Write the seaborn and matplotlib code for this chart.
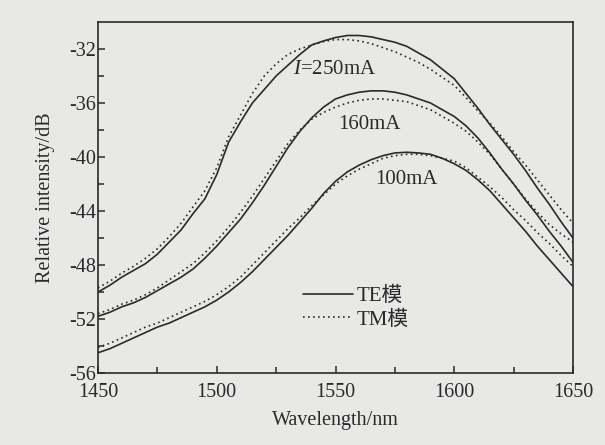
import pandas as pd
import matplotlib
matplotlib.use('Agg')
import matplotlib.pyplot as plt
import seaborn as sns

wavelength = list(range(1450, 1651, 5))

te_250 = [-50.0, -49.5, -48.9, -48.4, -47.9, -47.2, -46.3, -45.4, -44.2, -43.1,
          -41.3, -38.9, -37.4, -36.0, -35.0, -34.0, -33.2, -32.4, -31.7, -31.4,
          -31.15, -31.0, -31.0, -31.1, -31.3, -31.5, -31.8, -32.3, -32.8, -33.5,
          -34.2, -35.3, -36.4, -37.6, -38.7, -39.8, -41.0, -42.3, -43.5, -44.8, -46.0]
tm_250 = [-49.7, -49.2, -48.6, -48.1, -47.5, -46.8, -45.9, -44.9, -43.7, -42.5,
          -40.8, -38.5, -36.9, -35.3, -34.0, -33.1, -32.4, -32.0, -31.7, -31.45,
          -31.3, -31.3, -31.4, -31.6, -31.9, -32.2, -32.6, -33.0, -33.5, -34.1,
          -34.7, -35.6, -36.6, -37.5, -38.5, -39.6, -40.6, -41.7, -42.8, -43.9, -44.9]
te_160 = [-51.8, -51.5, -51.1, -50.8, -50.4, -49.9, -49.4, -48.9, -48.3, -47.5,
          -46.6, -45.6, -44.6, -43.4, -42.1, -40.7, -39.3, -38.1, -37.1, -36.3,
          -35.7, -35.4, -35.2, -35.1, -35.1, -35.2, -35.4, -35.7, -36.0, -36.5,
          -37.0, -37.7, -38.6, -39.7, -40.9, -42.0, -43.2, -44.3, -45.5, -46.6, -47.8]
tm_160 = [-51.6, -51.3, -50.9, -50.6, -50.2, -49.7, -49.1, -48.5, -47.9, -47.1,
          -46.2, -45.2, -44.1, -42.9, -41.6, -40.3, -39.0, -38.0, -37.2, -36.7,
          -36.3, -36.0, -35.8, -35.7, -35.7, -35.8, -35.9, -36.2, -36.5, -37.0,
          -37.5, -38.1, -38.9, -39.8, -40.9, -42.0, -43.1, -44.1, -45.0, -45.7, -46.3]
te_100 = [-54.5, -54.2, -53.8, -53.4, -53.0, -52.6, -52.3, -51.9, -51.5, -51.1,
          -50.6, -50.0, -49.3, -48.5, -47.6, -46.7, -45.8, -44.8, -43.8, -42.7,
          -41.8, -41.1, -40.6, -40.2, -39.9, -39.7, -39.65, -39.7, -39.8, -40.1,
          -40.5, -41.0, -41.7, -42.5, -43.5, -44.5, -45.5, -46.6, -47.6, -48.6, -49.6]
tm_100 = [-54.1, -53.8, -53.4, -53.0, -52.6, -52.3, -51.9, -51.5, -51.1, -50.7,
          -50.2, -49.6, -48.9, -48.0, -47.1, -46.2, -45.3, -44.5, -43.6, -42.8,
          -42.0, -41.4, -40.9, -40.5, -40.1, -39.9, -39.8, -39.8, -39.9, -40.1,
          -40.3, -40.8, -41.5, -42.2, -43.0, -43.9, -44.7, -45.6, -46.4, -47.3, -48.1]

modes = ['TE模', 'TM模']
curve_labels = ['$I$=250mA', '160mA', '100mA']

paper = '#e8e8e6'
ink = '#2a2a2a'


def build_frame():
    series = {('250mA', 'TE模'): te_250, ('250mA', 'TM模'): tm_250,
              ('160mA', 'TE模'): te_160, ('160mA', 'TM模'): tm_160,
              ('100mA', 'TE模'): te_100, ('100mA', 'TM模'): tm_100}
    rows = []
    for (cur, mode), vals in series.items():
        for w, v in zip(wavelength, vals):
            rows.append({'wavelength': w, 'intensity': v, 'current': cur, 'mode': mode})
    return pd.DataFrame(rows)


def main():
    sns.set_style('ticks')
    plt.rcParams['font.family'] = ['Liberation Serif', 'Noto Sans CJK SC']
    plt.rcParams['mathtext.fontset'] = 'custom'
    plt.rcParams['mathtext.it'] = 'Liberation Serif:italic'
    plt.rcParams['mathtext.rm'] = 'Liberation Serif'
    plt.rcParams['axes.unicode_minus'] = False

    df = build_frame()

    fig = plt.figure(figsize=(6.05, 4.45), dpi=100, facecolor=paper)
    ax = fig.add_axes([98 / 605, 1 - 373 / 445, 475 / 605, 351 / 445], facecolor=paper)

    sns.lineplot(data=df, x='wavelength', y='intensity', units='current', style='mode',
                 style_order=modes, dashes={'TE模': '', 'TM模': (1, 2)},
                 estimator=None, color=ink, linewidth=1.2, ax=ax)

    ax.set_xlim(1450, 1650)
    ax.set_ylim(-56, -30)
    ax.set_xticks([1450, 1500, 1550, 1600, 1650])
    ax.set_xticks([1475, 1525, 1575, 1625], minor=True)
    ax.set_yticks([-56, -52, -48, -44, -40, -36, -32])
    ax.set_yticks([-54, -50, -46, -42, -38, -34], minor=True)
    ax.tick_params(which='both', direction='in', colors=ink, width=1.1,
                   labelsize=14.5, top=False, right=False)
    ax.tick_params(which='major', length=5)
    ax.tick_params(which='minor', length=4)
    ax.tick_params(axis='x', pad=7.5)
    ax.tick_params(axis='y', pad=1.5)
    for s in ax.spines.values():
        s.set_color(ink)
        s.set_linewidth(1.2)

    ax.set_xlabel('Wavelength/nm', fontsize=14.5, color=ink, labelpad=6)
    ax.set_ylabel('Relative intensity/dB', fontsize=14.5, color=ink, labelpad=10)

    # curve labels
    for (x, y), lab in zip([(1532, -33.5), (1551, -37.6), (1566.6, -41.7)], curve_labels):
        ax.text(x, y, lab, fontsize=15, color=ink, va='center')

    leg = ax.legend(loc='center left', bbox_to_anchor=(0.41, 0.185), frameon=False,
                    fontsize=15, handlelength=2.4, handletextpad=0.15, borderpad=0,
                    labelspacing=0.2, title=None)
    for t in leg.get_texts():
        t.set_color(ink)

    fig.savefig('out.png', dpi=100, facecolor=paper)


if __name__ == '__main__':
    main()
